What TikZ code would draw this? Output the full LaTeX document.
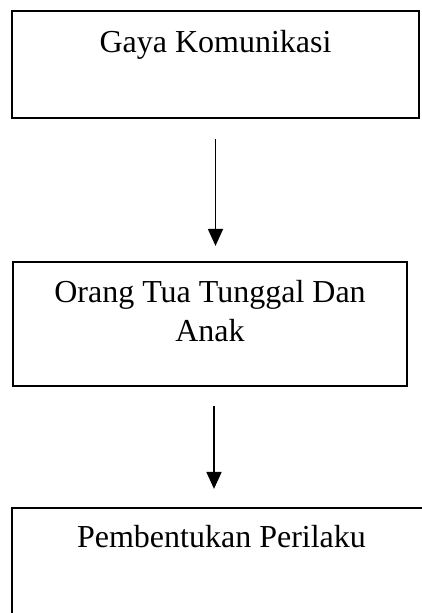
\documentclass[tikz,border=0pt]{standalone}
\usepackage{fontspec}
\setmainfont{Liberation Serif}
\usetikzlibrary{arrows.meta}
\begin{document}
\begin{tikzpicture}[x=1pt,y=1pt,
  boxstyle/.style={draw,line width=2.2pt,rectangle,inner sep=0pt},
  txt/.style={font=\fontsize{32}{38.4}\selectfont,align=center,inner sep=0pt},
  arr/.style={line width=1.8pt,-{Triangle[length=17pt,width=15pt]}}]
\useasboundingbox (0,0) rectangle (422,-613);
\node[boxstyle,minimum width=407pt,minimum height=107pt] (box1) at (215.5,-64.5) {};
\node[txt,anchor=base] (t1) at (215.5,-52) {Gaya Komunikasi};
\node[boxstyle,minimum width=394pt,minimum height=124pt] (box2) at (210,-324) {};
\node[txt,anchor=base] (t2) at (210,-341) {Orang Tua Tunggal Dan\\Anak};
\node[boxstyle,minimum width=419pt,minimum height=112pt] (box3) at (221.5,-564) {};
\node[txt,anchor=base] (t3) at (221.5,-547) {Pembentukan Perilaku};
\draw[arr] ([yshift=-20pt]box1.south) -- ([yshift=15pt]box1.south |- box2.north);
\draw[arr] ([xshift=4pt,yshift=-19pt]box2.south) -- ([xshift=4pt,yshift=18pt]box2.south |- box3.north);
\end{tikzpicture}
\end{document}
